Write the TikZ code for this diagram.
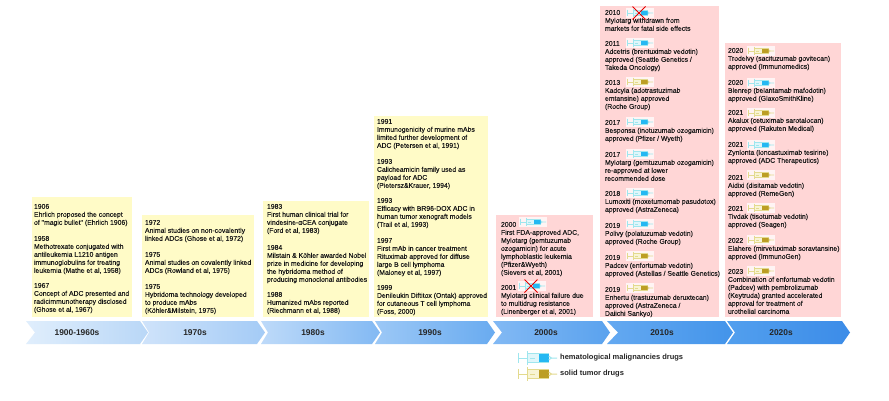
\documentclass[tikz,border=0pt]{standalone}
\usepackage{fontspec}
\setmainfont{Liberation Sans}
\newfontfamily\boxfont[FakeBold=0.12]{Liberation Sans}
\definecolor{ybox}{HTML}{FFFBC7}
\definecolor{pbox}{HTML}{FFD6D6}
\definecolor{hemA}{HTML}{9FE6EE}
\definecolor{hemB}{HTML}{25B8F2}
\definecolor{hemC}{HTML}{DFF6FA}
\definecolor{solA}{HTML}{E3DA8E}
\definecolor{solB}{HTML}{BC9E24}
\definecolor{solC}{HTML}{F8F4D4}
\definecolor{c1a}{HTML}{E0EEFC}\definecolor{c1b}{HTML}{B9D7F7}
\definecolor{c2a}{HTML}{CFE3FA}\definecolor{c2b}{HTML}{A4CBF6}
\definecolor{c3a}{HTML}{BEDAF9}\definecolor{c3b}{HTML}{82B9F3}
\definecolor{c4a}{HTML}{9CC8F6}\definecolor{c4b}{HTML}{69ABF0}
\definecolor{c5a}{HTML}{82B9F4}\definecolor{c5b}{HTML}{5AA2EE}
\definecolor{c6a}{HTML}{64A9F1}\definecolor{c6b}{HTML}{4394EA}
\definecolor{c7a}{HTML}{529FEE}\definecolor{c7b}{HTML}{3C8CE8}
\tikzset{
  x=1pt,y=-1pt,
  yellowbox/.style={fill=ybox,draw=none},
  pinkbox/.style={fill=pbox,draw=none},
  entry/.style={anchor=north west,inner sep=0pt,outer sep=0pt,align=left,text=black!90,
    font=\boxfont\fontsize{6.85}{8}\selectfont},
  era/.style={anchor=center,inner sep=0pt,font=\fontsize{8.4}{10}\selectfont\bfseries,text=black!85},
  legendtext/.style={anchor=west,inner sep=0pt,font=\fontsize{7.5}{9}\selectfont\bfseries,text=black!85},
  pics/syr/.style n args={5}{code={
    \begin{scope}[scale=#4,every path/.append style={line width=#5}]
    \fill[white,opacity=.75] (-1,-4.6) rectangle (26.5,4.6);
    \draw[#1] (0,-3.4)--(0,3.4) (0,0)--(6,0);
    \fill[#3] (6,-2.8) rectangle (20.5,2.8);
    \draw[#1] (6,-4.4)--(6,4.4) (6,-2.8) rectangle (20.5,2.8);
    \fill[#2] (14,-2.4) rectangle (20.5,2.4);
    \draw[#1] (8.2,0)--(11.2,0);
    \draw[#1] (20.5,-1.3)--(22.3,0)--(20.5,1.3) (22.3,0)--(26,0);
    \end{scope}
  }},
  pics/hem/.style={code={\pic{syr={hemA}{hemB}{hemC}{1}{.8pt}};}},
  pics/sol/.style={code={\pic{syr={solA}{solB}{solC}{1}{.8pt}};}},
  pics/hemL/.style={code={\pic{syr={hemA}{hemB}{hemC}{1.5}{1pt}};}},
  pics/solL/.style={code={\pic{syr={solA}{solB}{solC}{1.5}{1pt}};}},
  pics/nope/.style={code={\draw[red!90!black,line width=.9pt] (-6.5,-6.5)--(6.5,6.5) (-6.5,6.5)--(6.5,-6.5);}},
}
\begin{document}
\begin{tikzpicture}
\useasboundingbox (0,0) rectangle (889,400);
\fill[white] (0,0) rectangle (889,400);
% boxes
\fill[yellowbox] (32,197) rectangle (132,317);
\fill[yellowbox] (142,215) rectangle (254,317);
\fill[yellowbox] (263,201) rectangle (369,317);
\fill[yellowbox] (374,116) rectangle (488,317);
\fill[pinkbox] (496,215) rectangle (593,317);
\fill[pinkbox] (600,6) rectangle (719,317);
\fill[pinkbox] (725,43) rectangle (841,317);
% chevrons
\shade[left color=c1a,right color=c1b] (26,321)--(140,321)--(148,332.5)--(140,344)--(26,344)--(35,332.5)--cycle;
\shade[left color=c2a,right color=c2b] (142,321)--(257,321)--(265,332.5)--(257,344)--(142,344)--(149,332.5)--cycle;
\shade[left color=c3a,right color=c3b] (261,321)--(372,321)--(380,332.5)--(372,344)--(261,344)--(268,332.5)--cycle;
\shade[left color=c4a,right color=c4b] (375,321)--(487,321)--(495,332.5)--(487,344)--(375,344)--(382,332.5)--cycle;
\shade[left color=c5a,right color=c5b] (493,321)--(602,321)--(610,332.5)--(602,344)--(493,344)--(502,332.5)--cycle;
\shade[left color=c6a,right color=c6b] (607,321)--(725,321)--(733,332.5)--(725,344)--(607,344)--(618,332.5)--cycle;
\shade[left color=c7a,right color=c7b] (727,321)--(842,321)--(850,332.5)--(842,344)--(727,344)--(735,332.5)--cycle;
\node[era] (e1) at (77,332.5) {1900-1960s};
\node[era] (e2) at (195,332.5) {1970s};
\node[era] (e3) at (313,332.5) {1980s};
\node[era] (e4) at (430,332.5) {1990s};
\node[era] (e5) at (546,332.5) {2000s};
\node[era] (e6) at (662,332.5) {2010s};
\node[era] (e7) at (781,332.5) {2020s};
% box 1
\node[entry] (a1) at (34,204) {1906\\Ehrlich proposed the concept\\of "magic bullet" (Ehrlich 1906)};
\node[entry] (a2) at (34,236) {1958\\Methotrexate conjugated with\\antileukemia L1210 antigen\\immunoglobulins for treating\\leukemia (Mathe et al, 1958)};
\node[entry] (a3) at (34,283) {1967\\Concept of ADC presented and\\radicimmunotherapy disclosed\\(Ghose et al, 1967)};
% box 2
\node[entry] (b1) at (145,220) {1972\\Animal studies on non-covalently\\linked ADCs (Ghose et al, 1972)};
\node[entry] (b2) at (145,252) {1975\\Animal studies on covalently linked\\ADCs (Rowland et al, 1975)};
\node[entry] (b3) at (145,284) {1975\\Hybridoma technology developed\\to produce mAbs\\(Köhler\&Milstein, 1975)};
% box 3
\node[entry] (c1) at (267,204) {1983\\First human clinical trial for\\vindesine-αCEA conjugate\\(Ford et al, 1983)};
\node[entry] (c2) at (267,245) {1984\\Milstain \& Köhler awarded Nobel\\prize in medicine for developing\\the hybridoma method of\\producing monoclonal antibodies};
\node[entry] (c3) at (267,292) {1988\\Humanized mAbs reported\\(Riechmann et al, 1988)};
% box 4
\node[entry] (d1) at (377,119) {1991\\Immunogenicity of murine mAbs\\limited further development of\\ADC (Petersen et al, 1991)};
\node[entry] (d2) at (377,159) {1993\\Calicheamicin family used as\\payload for ADC\\(Pietersz\&Krauer, 1994)};
\node[entry] (d3) at (377,198) {1993\\Efficacy with BR96-DOX ADC in\\human tumor xenograft models\\(Trail et al, 1993)};
\node[entry] (d4) at (377,238) {1997\\First mAb in cancer treatment\\Rituximab approved for diffuse\\large B cell lymphoma\\(Maloney et al, 1997)};
\node[entry] (d5) at (377,285) {1999\\Denileukin Diftitox (Ontak) approved\\for cutaneous T cell lymphoma\\(Foss, 2000)};
% box 5
\node[entry] (f1) at (501,222) {2000\\First FDA-approved ADC,\\Mylotarg (gemtuzumab\\ozogamicin) for acute\\lymphoblastic leukemia\\(Pfizer\&Wyeth)\\(Sievers et al, 2001)};
\node[entry] (f2) at (501,285) {2001\\Mylotarg clinical failure due\\to multidrug resistance\\(Linenberger et al, 2001)};
\pic at (520,222) {hem};
\pic at (519,286) {hem};
\pic at (531,286) {nope};
% box 6
\node[entry] (g1) at (605,10) {2010\\Mylotarg withdrawn from\\markets for fatal side effects};
\node[entry] (g2) at (605,41) {2011\\Adcetris (brentuximab vedotin)\\approved (Seattle Genetics /\\Takeda Oncology)};
\node[entry] (g3) at (605,80) {2013\\Kadcyla (adotrastuzimab\\emtansine) approved\\(Roche Group)};
\node[entry] (g4) at (605,120) {2017\\Besponsa (inotuzumab ozogamicin)\\approved (Pfizer / Wyeth)};
\node[entry] (g5) at (605,152) {2017\\Mylotarg (gemtuzumab ozogamicin)\\re-approved at lower\\recommended dose};
\node[entry] (g6) at (605,191) {2018\\Lumoxiti (moxetumomab pasudotox)\\approved (AstraZeneca)};
\node[entry] (g7) at (605,223) {2019\\Polivy (polatuzumab vedotin)\\approved (Roche Group)};
\node[entry] (g8) at (605,255) {2019\\Padcev (enfortumab vedotin)\\approved (Astellas / Seattle Genetics)};
\node[entry] (g9) at (605,287) {2019\\Enhertu (trastuzumab deruxtecan)\\approved (AstraZeneca /\\Daiichi Sankyo)};
\pic at (627,13) {hem};
\pic at (639,13) {nope};
\pic at (627,43) {hem};
\pic at (627,82) {sol};
\pic at (627,122) {hem};
\pic at (627,154) {hem};
\pic at (627,193) {hem};
\pic at (627,224) {hem};
\pic at (627,256) {sol};
\pic at (627,288) {sol};
% box 7
\node[entry] (h1) at (728,48) {2020\\Trodelvy (sacituzumab govitecan)\\approved (Immunomedics)};
\node[entry] (h2) at (728,80) {2020\\Blenrep (belantamab mafodotin)\\approved (GlaxoSmithKline)};
\node[entry] (h3) at (728,110) {2021\\Akalux (cetuximab sarotalocan)\\approved (Rakuten Medical)};
\node[entry] (h4) at (728,142) {2021\\Zynlonta (loncastuximab tesirine)\\approved (ADC Therapeutics)};
\node[entry] (h5) at (728,175) {2021\\Aidixi (disitamab vedotin)\\approved (RemeGen)};
\node[entry] (h6) at (728,206) {2021\\Tivdak (tisotumab vedotin)\\approved (Seagen)};
\node[entry] (h7) at (728,238) {2022\\Elahere (mirvetuximab soravtansine)\\approved (ImmunoGen)};
\node[entry] (h8) at (728,269) {2023\\Combination of enfortumab vedotin\\(Padcev) with pembrolizumab\\(Keytruda) granted accelerated\\approval for treatment of\\urothelial carcinoma};
\pic at (748,51) {sol};
\pic at (748,83) {hem};
\pic at (748,113) {sol};
\pic at (748,145) {hem};
\pic at (748,175) {sol};
\pic at (748,208) {sol};
\pic at (748,240) {sol};
\pic at (748,271) {sol};
% legend
\pic at (518,358) {hemL};
\pic at (518,374) {solL};
\node[legendtext] (l1) at (560,358) {hematological malignancies drugs};
\node[legendtext] (l2) at (560,374) {solid tumor drugs};
\end{tikzpicture}
\end{document}
